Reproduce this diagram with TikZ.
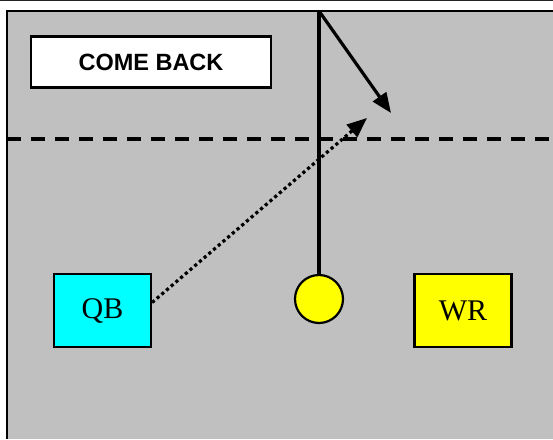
\documentclass[tikz,border=0pt]{standalone}
\usepackage{fontspec}
\setmainfont{Liberation Serif}
\newfontfamily\titlefont{Liberation Sans}
\usetikzlibrary{arrows.meta}

\definecolor{fieldgray}{RGB}{192,192,192}
\definecolor{topline}{RGB}{34,34,34}
\definecolor{qbcyan}{RGB}{0,255,255}
\definecolor{wryellow}{RGB}{255,255,0}

\begin{document}
\begin{tikzpicture}[x=1pt, y=-1pt,
    player/.style={rectangle, draw, line width=2.2pt, minimum width=97pt, minimum height=73pt, font=\fontsize{30}{30}\selectfont},
    route/.style={line width=3.2pt, -{Triangle[length=20pt, width=16pt]}}]
        \useasboundingbox (0,0) rectangle (553,439);

        % Boisko
        \fill[fieldgray] (7,11) rectangle (553,439);
        \draw[line width=2.2pt] (7,439) -- (7,11) -- (553,11);
        \draw[topline, line width=1.5pt] (0,0.5) -- (553,0.5);

        % Linia wznowienia
        \coordinate (losL) at (7,139);
        \coordinate (losR) at (553,139);
        \draw[line width=3.2pt, dash pattern=on 14pt off 10pt] (losL) -- (losR);

        % Zawodnicy
        \node[rectangle, draw, fill=white, line width=2.2pt, minimum width=240pt, minimum height=51pt, font=\titlefont\bfseries\fontsize{23.5}{24}\selectfont] (title) at (151,62) {COME BACK};
        \node[player, fill=qbcyan, text height=21pt] (qb) at (102.5,310.5) {QB};
        \node[player, fill=wryellow, text height=21pt] (wr) at (463,310.5) {WR};
        \node[circle, draw, fill=wryellow, line width=2.2pt, minimum size=48pt, inner sep=0pt] (center) at (319,299) {};

        % Trasy
        \coordinate (stem) at (319,11);
        \coordinate (break) at (391,113);
        \coordinate (ball) at (367,118);
        \draw[line width=3.2pt] (center.north) -- (stem);
        \draw[route] (stem) -- (break);
        \draw[route, dash pattern=on 3.2pt off 3pt] ([yshift=8pt]qb.east) -- (ball);
    \end{tikzpicture}
\end{document}
